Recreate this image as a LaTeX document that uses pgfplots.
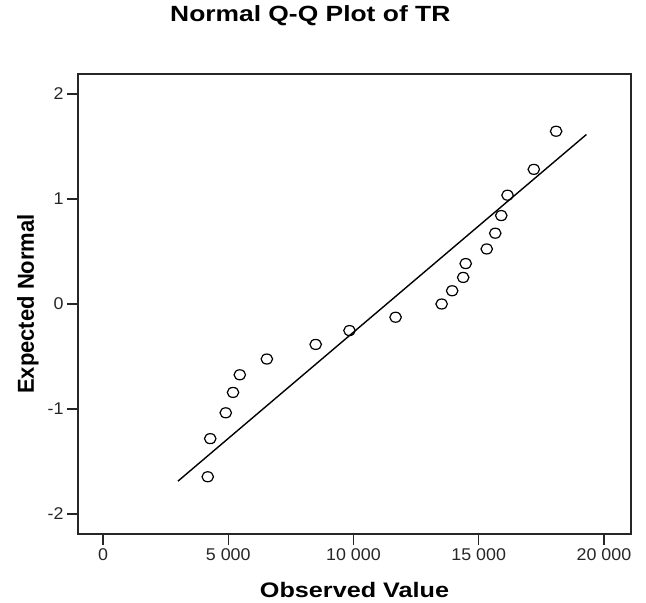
\documentclass[border=0pt]{standalone}
\usepackage{fontspec}
\setmainfont{Liberation Sans}[FakeStretch=1.2]
\newfontfamily\tickfont{Liberation Sans}[FakeStretch=1.05]
\newfontfamily\ylabfont{Liberation Sans}
\usepackage{pgfplots}
\pgfplotsset{compat=1.18}
\begin{document}
\begin{tikzpicture}
\begin{axis}[
  scale only axis, width=553pt, height=460pt,
  xmin=-1000, xmax=21080, ymin=-2.19, ymax=2.19,
  scaled x ticks=false,
  axis line style={line width=1.3pt, black!85},
  xtick={0,5000,10000,15000,20000},
  xticklabels={0,5 000,10 000,15 000,20 000},
  ytick={-2,-1,0,1,2},
  yticklabels={-2,-1,0,1,2},
  tick align=outside, xtick pos=bottom, ytick pos=left,
  major tick length=11pt,
  tick style={line width=1.2pt, black!85},
  ticklabel style={font=\tickfont\fontsize{17}{19}\selectfont, text=black!85},
  title={Normal Q-Q Plot of TR},
  title style={font=\bfseries\fontsize{22}{24}\selectfont, at={(axis description cs:0.42,1.1)}, anchor=base, inner sep=0pt},
  xlabel={Observed Value},
  xlabel style={font=\bfseries\fontsize{21}{24}\selectfont, at={(axis description cs:0.5,-0.139)}, anchor=base, inner sep=0pt},
  ylabel={Expected Normal},
  ylabel style={font=\ylabfont\bfseries\fontsize{22}{24}\selectfont, at={(axis description cs:-0.0796,0.5)}, anchor=base, inner sep=0pt, yscale=1.05},
]
\addplot[black, line width=1.4pt] coordinates {(2990,-1.687) (19300,1.614)};
\addplot[only marks, mark=o, mark size=5pt, mark options={line width=1.2pt, xscale=1.15, black}] coordinates {
(4180,-1.645) (4280,-1.282) (4900,-1.036) (5190,-0.842) (5460,-0.674)
(6540,-0.524) (8490,-0.385) (9840,-0.253) (11680,-0.126) (13520,0)
(13940,0.126) (14380,0.253) (14480,0.385) (15320,0.524) (15660,0.674)
(15900,0.842) (16150,1.036) (17200,1.282) (18090,1.645)
};
\end{axis}
\path ([shift={(-78pt,-69pt)}]current axis.south west) rectangle ([shift={(15pt,74pt)}]current axis.north east);
\end{tikzpicture}
\end{document}
